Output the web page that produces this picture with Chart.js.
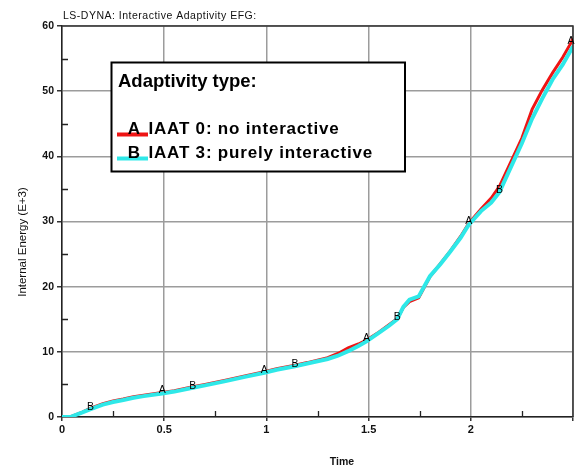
<!DOCTYPE html>
<html><head><meta charset="utf-8">
<script src="https://cdn.jsdelivr.net/npm/chart.js@4/dist/chart.umd.min.js"></script>
<style>html,body{margin:0;padding:0;background:#fff;}canvas{display:block;}</style>
</head><body>
<canvas id="c" width="575" height="468"></canvas>
<script>
// Texts
const chartTitle = 'LS-DYNA: Interactive Adaptivity EFG:';
const xTitle = 'Time';
const yTitle = 'Internal Energy (E+3)';
const legendTitle = 'Adaptivity type:';
const seriesNames = ['IAAT 0: no interactive', 'IAAT 3: purely interactive'];
const seriesLetters = ['A', 'B'];
const seriesColors = ['#ee1414', '#2ee8e8'];

// Sampled history (time, internal energy in E+3)
const times = [0, 0.04, 0.1, 0.14, 0.2, 0.25, 0.3, 0.35, 0.4, 0.49, 0.55, 0.64, 0.7, 0.8, 0.9, 0.99,
  1.05, 1.14, 1.2, 1.3, 1.35, 1.4, 1.45, 1.49, 1.55, 1.6, 1.64, 1.67, 1.7, 1.745, 1.8, 1.85, 1.9,
  1.95, 1.99, 2.05, 2.1, 2.14, 2.2, 2.25, 2.3, 2.35, 2.4, 2.45, 2.49, 2.5];
const energyA = [0, 0, 0.75, 1.35, 2.05, 2.45, 2.75, 3.1, 3.35, 3.75, 4.05, 4.65, 5.0, 5.65, 6.35, 6.95,
  7.4, 7.95, 8.35, 9.1, 9.75, 10.6, 11.2, 11.8, 13.0, 14.15, 15.1, 16.8, 17.7, 18.3, 21.5, 23.5, 25.5,
  27.7, 29.7, 31.9, 33.6, 35.4, 39.4, 42.8, 47.2, 50.2, 52.8, 55.2, 57.4, 58.1];
const energyB = [0, 0, 0.7, 1.2, 1.9, 2.3, 2.6, 2.95, 3.2, 3.6, 3.9, 4.5, 4.85, 5.5, 6.2, 6.8,
  7.25, 7.8, 8.2, 8.9, 9.4, 10.1, 10.9, 11.6, 12.9, 14.0, 15.0, 16.9, 18.0, 18.5, 21.6, 23.4, 25.4,
  27.5, 29.5, 31.6, 32.9, 34.5, 38.6, 42.0, 45.8, 48.9, 51.8, 54.1, 56.3, 56.9];

// Times where each curve carries its identifying letter
const letterTimes = [[0.49, 0.99, 1.49, 1.99, 2.49], [0.14, 0.64, 1.14, 1.64, 2.14]];

// Axis ranges
const xMin = 0, xMax = 2.5, xStep = 0.5;
const yMin = 0, yMax = 60, yStep = 10;
const xTickLabels = ['0', '0.5', '1', '1.5', '2'];

const FONT = '"Liberation Sans", Arial, sans-serif';

const decor = {
  id: 'decor',
  afterDatasetsDraw(chart) {
    const { ctx, chartArea: a, scales: { x, y } } = chart;
    ctx.save();

    // top and right frame
    ctx.strokeStyle = '#333';
    ctx.lineWidth = 1.5;
    ctx.beginPath();
    ctx.moveTo(a.left, a.top);
    ctx.lineTo(a.right, a.top);
    ctx.lineTo(a.right, a.bottom);
    ctx.stroke();

    // minor ticks pointing into the plot, halfway between major ticks
    ctx.strokeStyle = '#222';
    ctx.lineWidth = 1.3;
    ctx.beginPath();
    for (let i = 0; i < x.ticks.length - 1; i++) {
      const px = Math.round(x.getPixelForValue((x.ticks[i].value + x.ticks[i + 1].value) / 2)) + 0.5;
      ctx.moveTo(px, a.bottom);
      ctx.lineTo(px, a.bottom - 6);
    }
    for (let i = 0; i < y.ticks.length - 1; i++) {
      const py = Math.round(y.getPixelForValue((y.ticks[i].value + y.ticks[i + 1].value) / 2)) + 0.5;
      ctx.moveTo(a.left, py);
      ctx.lineTo(a.left + 6, py);
    }
    ctx.stroke();

    // curve letters
    ctx.fillStyle = '#000';
    ctx.font = '10.5px ' + FONT;
    ctx.textAlign = 'center';
    ctx.textBaseline = 'middle';
    chart.data.datasets.forEach((ds, di) => {
      const meta = chart.getDatasetMeta(di);
      letterTimes[di].forEach(t => {
        const p = meta.data[times.indexOf(t)];
        ctx.fillText(seriesLetters[di], p.x, p.y - 2);
      });
    });

    // legend box
    const bx = 111.5, by = 62.5, bw = 293.5, bh = 109;
    ctx.fillStyle = '#fff';
    ctx.fillRect(bx, by, bw, bh);
    ctx.strokeStyle = '#000';
    ctx.lineWidth = 2;
    ctx.strokeRect(bx, by, bw, bh);

    ctx.fillStyle = '#000';
    ctx.textAlign = 'left';
    ctx.textBaseline = 'alphabetic';
    ctx.font = 'bold 18.5px ' + FONT;
    ctx.fillText(legendTitle, 118, 87);

    const rows = [133.5, 157.5];
    seriesNames.forEach((name, i) => {
      ctx.strokeStyle = seriesColors[i];
      ctx.lineWidth = 4;
      ctx.beginPath();
      ctx.moveTo(117, rows[i] + 1);
      ctx.lineTo(148, rows[i] + 1);
      ctx.stroke();
      ctx.fillStyle = '#000';
      ctx.font = 'bold 17px ' + FONT;
      ctx.textAlign = 'center';
      ctx.fillText(seriesLetters[i], 134, rows[i]);
      ctx.textAlign = 'left';
      ctx.letterSpacing = '0.8px';
      ctx.fillText(name, 148.5, rows[i]);
      ctx.letterSpacing = '0px';
    });

    // chart title and axis titles
    ctx.fillStyle = '#111';
    ctx.textAlign = 'left';
    ctx.font = '10.5px ' + FONT;
    ctx.letterSpacing = '0.5px';
    ctx.fillText(chartTitle, 63, 19);
    ctx.letterSpacing = '0px';

    ctx.textAlign = 'center';
    ctx.textBaseline = 'middle';
    ctx.font = 'bold 10.5px ' + FONT;
    ctx.fillText(xTitle, 342, 462);

    ctx.font = '11.5px ' + FONT;
    ctx.translate(23, 242);
    ctx.rotate(-Math.PI / 2);
    ctx.fillText(yTitle, 0, 0);

    ctx.restore();
  }
};

new Chart(document.getElementById('c'), {
  type: 'line',
  data: {
    datasets: [
      {
        label: seriesNames[0],
        data: times.map((t, i) => ({ x: t, y: energyA[i] })),
        borderColor: seriesColors[0],
        borderWidth: 3,
        pointRadius: 0,
        tension: 0,
        order: 2
      },
      {
        label: seriesNames[1],
        data: times.map((t, i) => ({ x: t, y: energyB[i] })),
        borderColor: seriesColors[1],
        borderWidth: 4,
        pointRadius: 0,
        tension: 0,
        order: 1
      }
    ]
  },
  options: {
    responsive: false,
    animation: false,
    devicePixelRatio: 1,
    layout: { padding: { top: 26, right: 1, left: 0, bottom: 0 } },
    plugins: { legend: { display: false }, tooltip: { enabled: false }, title: { display: false } },
    scales: {
      x: {
        type: 'linear',
        min: xMin, max: xMax,
        afterFit(s) { s.height = 51; },
        ticks: {
          stepSize: xStep,
          color: '#111',
          font: { family: FONT, size: 11, weight: 'bold' },
          padding: 2,
          maxRotation: 0,
          callback: (v, i) => (i < xTickLabels.length ? xTickLabels[i] : '')
        },
        grid: { color: '#9c9c9c', lineWidth: 1.5, tickLength: 4, tickColor: '#333' },
        border: { color: '#222', width: 1.5 }
      },
      y: {
        min: yMin, max: yMax,
        afterFit(s) { s.width = 62; },
        ticks: {
          stepSize: yStep,
          color: '#111',
          font: { family: FONT, size: 10.5, weight: 'bold' },
          padding: 3
        },
        grid: { color: '#9c9c9c', lineWidth: 1.5, tickLength: 5, tickColor: '#333' },
        border: { color: '#222', width: 1.5 }
      }
    }
  },
  plugins: [decor]
});
</script>
</body></html>
